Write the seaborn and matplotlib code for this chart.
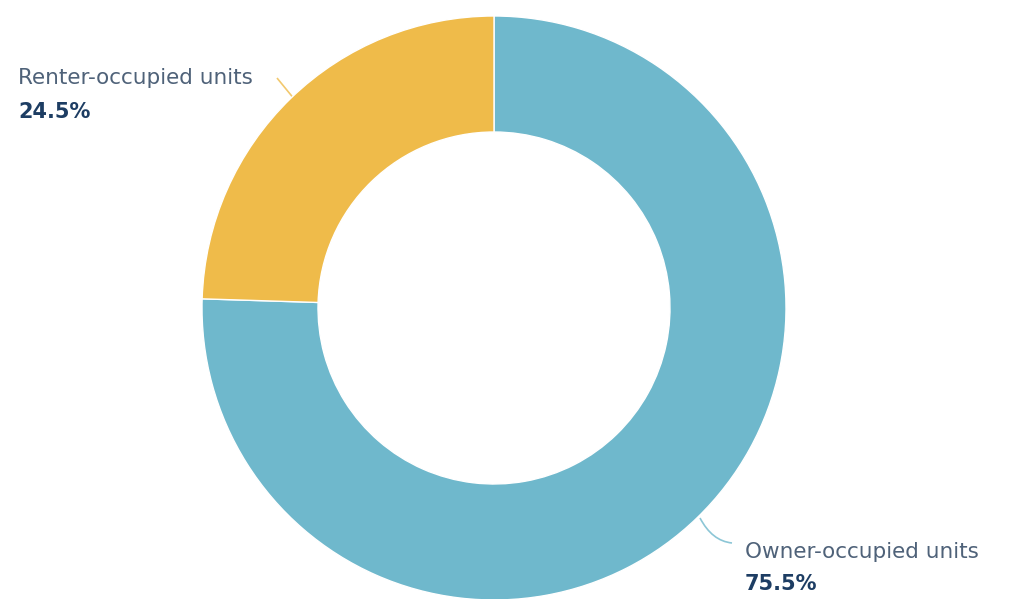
import matplotlib
matplotlib.use("Agg")
import matplotlib.pyplot as plt
from matplotlib.patches import PathPatch
from matplotlib.path import Path
import seaborn as sns

# Housing tenure shares
categories = ["Owner-occupied units", "Renter-occupied units"]
shares = [75.5, 24.5]
colors = ["#6fb8cc", "#efbb4a"]
label_color = "#4f6279"
value_color = "#1d3d63"

sns.set_theme(style="white")
plt.rcParams["font.family"] = ["DejaVu Sans"]

W, H = 1014, 599
fig = plt.figure(figsize=(W / 100, H / 100), dpi=100)
ax = fig.add_axes([0, 0, 1, 1])
ax.set_xlim(0, W)
ax.set_ylim(H, 0)
ax.axis("off")

# Donut drawn in an un-flipped inset so the pie keeps its usual orientation
cx, cy, R = 494, 308, 292
pax = fig.add_axes([(cx - R) / W, 1 - (cy + R) / H, 2 * R / W, 2 * R / H])
pax.pie(
    shares,
    colors=colors,
    startangle=90,
    counterclock=False,
    radius=1.0,
    wedgeprops=dict(width=116 / 292, edgecolor="white", linewidth=1.0),
)
pax.set_xlim(-1, 1)
pax.set_ylim(-1, 1)
pax.set_aspect("equal")
pax.axis("off")

# Leader lines
renter_line = Path([(277, 78), (295, 100)], [Path.MOVETO, Path.LINETO])
ax.add_patch(PathPatch(renter_line, fill=False, edgecolor="#efbb4a", lw=1.2, alpha=0.8))
owner_line = Path([(700, 518), (712, 541), (732, 543)],
                  [Path.MOVETO, Path.CURVE3, Path.CURVE3])
ax.add_patch(PathPatch(owner_line, fill=False, edgecolor="#6fb8cc", lw=1.2, alpha=0.8))

# Labels
ax.text(18, 84, categories[1], fontsize=15.5, color=label_color, va="baseline", ha="left")
ax.text(18, 118, f"{shares[1]}%", fontsize=15, fontweight="bold", color=value_color,
        va="baseline", ha="left")
ax.text(745, 558, categories[0], fontsize=15.5, color=label_color, va="baseline", ha="left")
ax.text(745, 590, f"{shares[0]}%", fontsize=15, fontweight="bold", color=value_color,
        va="baseline", ha="left")

fig.savefig("out.png", dpi=100, facecolor="white")
